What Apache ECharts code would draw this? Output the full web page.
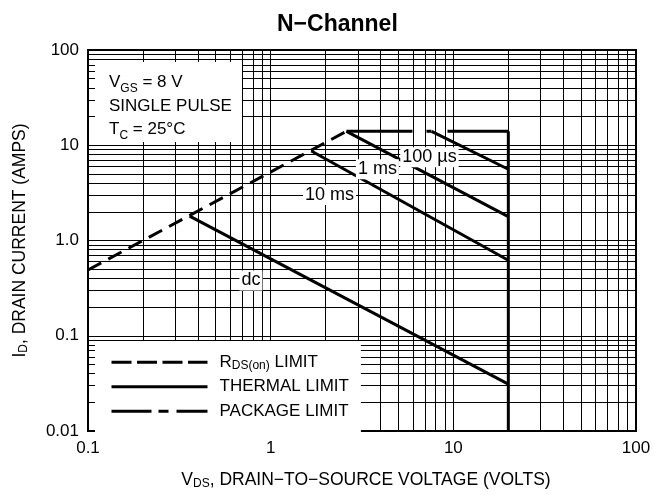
<!DOCTYPE html>
<html>
<head>
<meta charset="utf-8">
<script src="https://cdn.jsdelivr.net/npm/echarts@6/dist/echarts.min.js"></script>
<style>
  html, body { margin: 0; padding: 0; background: #fff; }
  #chart { width: 654px; height: 495px; }
</style>
</head>
<body>
<div id="chart"></div>
<script>
// safe operating area (VDS in volts, ID in amps)
const rdsLimit = [[0.1, 0.49], [2.6, 14]];
const packageLimit = [[2.6, 14], [20, 14]];
const pulse100us = [[7.6, 14], [20, 5.6]];
const pulse1ms = [[2.6, 14], [20, 1.78]];
const pulse10ms = [[1.67, 8.7], [20, 0.62]];
const dcLine = [[0.36, 1.8], [20, 0.031]];
const vdsMax = [[20, 14], [20, 0.01]];

const curveLabels = ['100 µs', '1 ms', '10 ms', 'dc'];
const curveLabelAt = [[7.4, 7.5], [3.84, 5.6], [2.1, 3.0], [0.78, 0.38]];

const xTickLabels = ['0.1', '1', '10', '100'];
const yTickLabels = ['0.01', '0.1', '1.0', '10', '100'];
const xDecades = [0.1, 1, 10];
const yDecades = [0.01, 0.1, 1, 10];
const minorSteps = [2, 3, 4, 5, 6, 7, 8, 9];

const font = "'Liberation Sans', Arial, sans-serif";
const chart = echarts.init(document.getElementById('chart'));

// 2..9 lines inside each decade
const xMinor = [];
xDecades.forEach(d => minorSteps.forEach(k => xMinor.push(+(k * d).toPrecision(3))));
const yMinor = [];
yDecades.forEach(d => minorSteps.forEach(k => yMinor.push(+(k * d).toPrecision(3))));

const subStyle = { fontFamily: font, fontSize: 12, lineHeight: 12, verticalAlign: 'bottom' };

function thermal(data, idx) {
  const s = {
    name: 'THERMAL LIMIT',
    type: 'line',
    data: data,
    symbol: 'none',
    z: 3,
    itemStyle: { color: '#000' },
    lineStyle: { color: '#000', width: 3 }
  };
  if (idx != null) {
    s.markPoint = {
      symbol: 'rect',
      symbolSize: 0,
      silent: true,
      data: [{ coord: curveLabelAt[idx] }],
      label: {
        show: true,
        position: 'inside',
        formatter: curveLabels[idx],
        color: '#000',
        fontFamily: font,
        fontSize: 18,
        backgroundColor: '#fff',
        padding: [1, 2]
      }
    };
  }
  return s;
}

chart.setOption({
  animation: false,
  title: {
    text: 'N\u2212Channel',
    left: 277,
    top: 13,
    padding: 0,
    textStyle: { fontFamily: font, fontSize: 23, fontWeight: 'bold', color: '#000' }
  },
  grid: {
    left: 88, right: 18, top: 50, bottom: 60,
    show: true, borderColor: '#000', borderWidth: 2
  },
  xAxis: {
    type: 'log',
    logBase: 10,
    min: 0.1,
    max: 100,
    name: 'V{s|DS}, DRAIN\u2212TO\u2212SOURCE VOLTAGE (VOLTS)',
    nameLocation: 'middle',
    nameGap: 39,
    nameTextStyle: {
      fontFamily: font, fontSize: 17.5, color: '#000', lineHeight: 20,
      padding: [0, 0, 0, 8],
      rich: { s: subStyle }
    },
    axisLine: { show: true, onZero: false, lineStyle: { color: '#000', width: 2 } },
    axisTick: { show: false },
    axisLabel: {
      margin: 9,
      fontFamily: font, fontSize: 17, color: '#000',
      formatter: (v, i) => xTickLabels[i]
    },
    splitLine: { show: true, lineStyle: { color: '#000', width: 1 } }
  },
  yAxis: {
    type: 'log',
    logBase: 10,
    min: 0.01,
    max: 100,
    name: 'I{s|D}, DRAIN CURRENT (AMPS)',
    nameLocation: 'middle',
    nameGap: 58,
    nameTextStyle: {
      fontFamily: font, fontSize: 17.5, color: '#000', lineHeight: 20,
      rich: { s: subStyle }
    },
    axisLine: { show: true, onZero: false, lineStyle: { color: '#000', width: 2 } },
    axisTick: { show: false },
    axisLabel: {
      margin: 9,
      fontFamily: font, fontSize: 17, color: '#000',
      formatter: (v, i) => yTickLabels[i]
    },
    splitLine: { show: true, lineStyle: { color: '#000', width: 1 } }
  },
  legend: {
    orient: 'vertical',
    left: 95,
    top: 341,
    selectedMode: false,
    backgroundColor: '#fff',
    padding: [12, 12, 13, 15],
    itemWidth: 96,
    itemHeight: 14,
    itemGap: 6,
    z: 5,
    lineStyle: { width: 3 },
    itemStyle: { color: 'rgba(0,0,0,0)', borderWidth: 0 },
    data: [
      { name: 'RDS(on) LIMIT', lineStyle: { type: [20, 5.5] } },
      { name: 'THERMAL LIMIT' },
      { name: 'PACKAGE LIMIT', lineStyle: { type: [40, 7, 10, 8] } }
    ],
    formatter: name => name === 'RDS(on) LIMIT' ? 'R{s|DS(on)} LIMIT' : name,
    textStyle: {
      fontFamily: font, fontSize: 17, lineHeight: 18.5, color: '#000', padding: [0, 0, 0, 7],
      rich: { s: subStyle }
    }
  },
  graphic: [
    {
      type: 'rect', left: 95, top: 62, z: 5, silent: true,
      shape: { width: 147, height: 80 },
      style: { fill: '#fff' }
    },
    {
      type: 'text', left: 109, top: 71, z: 6, silent: true,
      style: {
        text: 'V{s|GS} = 8 V\nSINGLE PULSE\nT{s|C} = 25°C',
        fontFamily: font, fontSize: 17, lineHeight: 23.5, fill: '#000',
        rich: { s: { fontFamily: font, fontSize: 12, lineHeight: 16, verticalAlign: 'bottom' } }
      }
    }
  ],
  series: [
    {
      name: 'grid',
      type: 'line',
      data: [],
      silent: true,
      z: 1,
      markLine: {
        z: 1,
        silent: true,
        symbol: ['none', 'none'],
        label: { show: false },
        emphasis: { disabled: true },
        lineStyle: { color: '#000', width: 1, type: 'solid' },
        data: xMinor.map(v => ({ xAxis: v })).concat(yMinor.map(v => ({ yAxis: v })))
      }
    },
    {
      name: 'RDS(on) LIMIT',
      type: 'line',
      data: rdsLimit,
      symbol: 'none',
      z: 3,
      itemStyle: { color: '#000' },
      lineStyle: { color: '#000', width: 3, type: [15, 8] }
    },
    {
      name: 'PACKAGE LIMIT',
      type: 'line',
      data: packageLimit,
      symbol: 'none',
      z: 3,
      itemStyle: { color: '#000' },
      lineStyle: { color: '#000', width: 3, type: [66, 14, 5, 16] }
    },
    thermal(pulse100us, 0),
    thermal(pulse1ms, 1),
    thermal(pulse10ms, 2),
    thermal(dcLine, 3),
    thermal(vdsMax)
  ]
});
</script>
</body>
</html>
